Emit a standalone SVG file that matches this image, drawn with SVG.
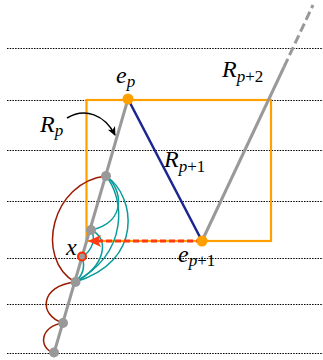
<svg xmlns="http://www.w3.org/2000/svg" width="323" height="360" viewBox="0 0 323 360">
<style>
.dot{stroke:#000;stroke-width:1;stroke-dasharray:1.5 1.2;fill:none}
.gray{stroke:#999;stroke-width:3;fill:none}
.teal{stroke:#0a9a9a;stroke-width:1.5;fill:none}
.dred{stroke:#9b1a00;stroke-width:1.5;fill:none}
.node{fill:#999}
.lab{font-family:"Liberation Serif","Times New Roman",serif;font-style:italic;font-size:24px;fill:#000}
.sub{font-size:17px}
.up{font-style:normal}
</style>
<defs>
<marker id="blk" markerWidth="10" markerHeight="10" refX="8" refY="5" orient="auto" markerUnits="userSpaceOnUse">
<path d="M0,1 L9,5 L0,9 L2.5,5 Z" fill="#000"/>
</marker>
</defs>
<g id="grid">
<line class="dot" x1="7" y1="48.5" x2="323" y2="48.5"/>
<line class="dot" x1="7" y1="100.5" x2="323" y2="100.5"/>
<line class="dot" x1="7" y1="150.5" x2="323" y2="150.5"/>
<line class="dot" x1="7" y1="201.5" x2="323" y2="201.5"/>
<line class="dot" x1="7" y1="258.5" x2="323" y2="258.5"/>
<line class="dot" x1="7" y1="304.5" x2="323" y2="304.5"/>
<line class="dot" x1="7" y1="353.5" x2="323" y2="353.5"/>
</g>
<g id="box">
<rect x="86.5" y="100" width="184.5" height="141" fill="none" stroke="#ffa000" stroke-width="2.2"/>
</g>
<g id="connectors">
<line class="gray" x1="54" y1="353" x2="128" y2="99"/>
<line class="gray" x1="202" y1="241" x2="284" y2="67"/>
<line class="gray" x1="284" y1="67" x2="313" y2="5" stroke-dasharray="9 4"/>
<line x1="128" y1="99" x2="202" y2="241" stroke="#1a2590" stroke-width="2.5"/>
<path class="dred" d="M106,176 C52,182 34,258 75,282"/>
<path class="dred" d="M75,282 C40,286 38,315 63,323"/>
<path class="dred" d="M63,323 C40,326 38,348 54,353"/>
<path class="teal" d="M106,176 C122,188 128,222 91,230"/>
<path class="teal" d="M106,176 C124,198 130,252 75,282"/>
<path class="teal" d="M106,176 C136,196 144,262 75,282"/>
<path class="teal" d="M91,230 C110,238 106,266 75,282"/>
<path class="teal" d="M82,257 C93,250 96,238 91,230"/>
<path class="teal" d="M75,282 C82,276 86,268 82,257"/>
<line x1="202" y1="241" x2="98" y2="241" stroke="#ff3a10" stroke-width="3" stroke-dasharray="6 3"/>
<path d="M88,241 L101,235 L98,241 L101,247 Z" fill="#ff3a10"/>
<path d="M67,118 C85,107 105,115 115,135" fill="none" stroke="#000" stroke-width="1.5" marker-end="url(#blk)"/>
</g>
<g id="n1"><circle class="node" cx="106" cy="176" r="5"/></g>
<g id="n2"><circle class="node" cx="91" cy="230" r="5"/></g>
<g id="nx"><circle cx="82" cy="256.5" r="4" fill="#999" stroke="#ff2a00" stroke-width="2"/></g>
<g id="n3"><circle class="node" cx="75.5" cy="282" r="5"/></g>
<g id="n4"><circle class="node" cx="63" cy="323" r="5"/></g>
<g id="n5"><circle class="node" cx="54" cy="352.5" r="5"/></g>
<g id="ep"><circle cx="128" cy="99" r="5.5" fill="#ffa000"/></g>
<g id="ep1"><circle cx="202" cy="241" r="5.5" fill="#ffa000"/></g>
<g id="labels">
<text class="lab" x="116" y="83">e<tspan class="sub" dy="4">p</tspan></text>
<text class="lab" x="222" y="77">R<tspan class="sub" dy="5">p<tspan class="up">+2</tspan></tspan></text>
<text class="lab" x="40" y="132">R<tspan class="sub" dy="4">p</tspan></text>
<text class="lab" x="164" y="167">R<tspan class="sub" dy="5">p<tspan class="up">+1</tspan></tspan></text>
<text class="lab" x="178" y="262">e<tspan class="sub" dy="4">p<tspan class="up">+1</tspan></tspan></text>
<text class="lab" x="66" y="255">x</text>
</g>
</svg>
